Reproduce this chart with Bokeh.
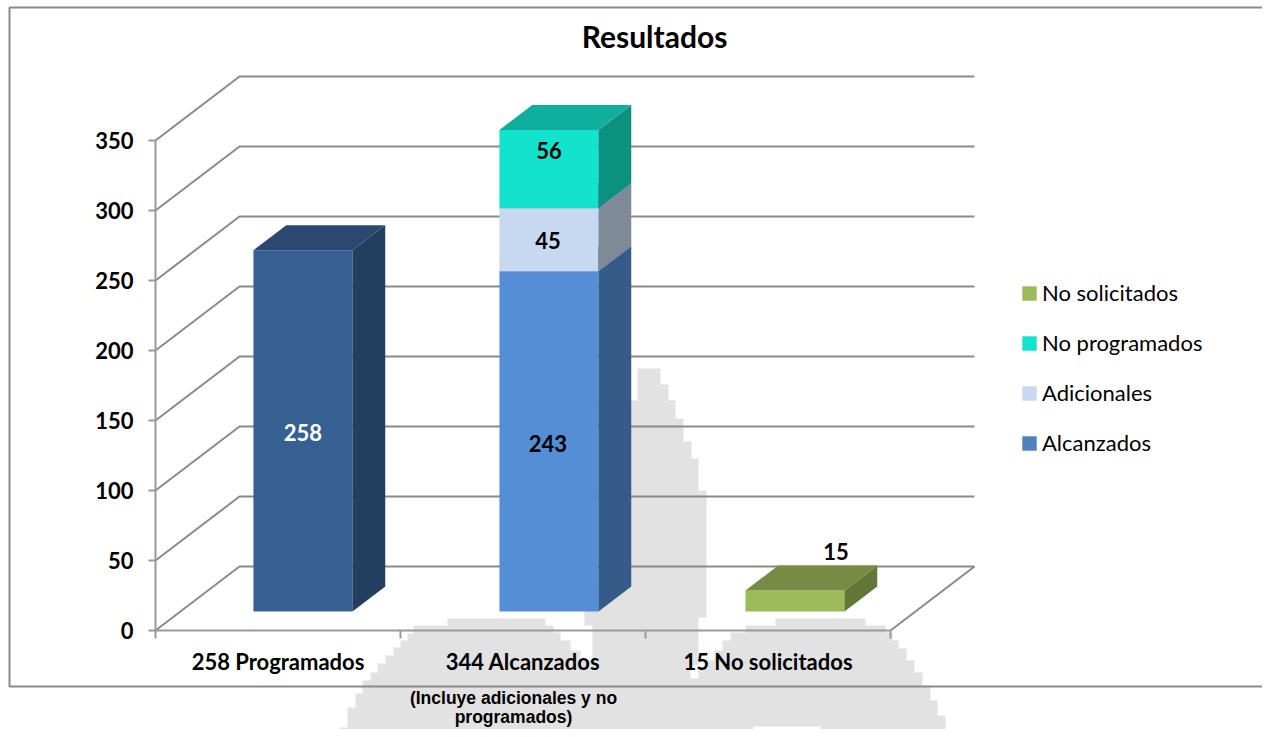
from bokeh.plotting import figure
from bokeh.embed import file_html
from bokeh.resources import INLINE
from bokeh.core.properties import value
from bokeh.models import (Range1d, FixedTicker, LinearAxis, Legend, LegendItem,
                          ColumnDataSource)

# ---------- data ----------
title_text = "Resultados"
categories = ["258 Programados", "344 Alcanzados", "15 No solicitados"]
sub_label = ["(Incluye adicionales y no", "programados)"]
y_ticks = [0, 50, 100, 150, 200, 250, 300, 350]

programados = [258]
alcanzados = [243]
adicionales = [45]
no_programados = [56]
no_solicitados = [15]

legend_names = ["No solicitados", "No programados", "Adicionales", "Alcanzados"]
legend_colors = ["#9BBB59", "#13E3CC", "#C6D9F1", "#4F81BD"]

# (category, start, end, front, top, side, label colour, label dx px, label dy px)
segments = [
    (0, 0, programados[0], "#366092", "#2C4770", "#233F60", "white", 0, -2),
    (1, 0, alcanzados[0], "#558ED5", "#355B88", "#355B88", "black", 0, -2),
    (1, alcanzados[0], alcanzados[0] + adicionales[0], "#C6D9F1", "#7E8A98", "#7E8A98", "black", 0, -1),
    (1, alcanzados[0] + adicionales[0], alcanzados[0] + adicionales[0] + no_programados[0],
     "#13E3CC", "#10AE9C", "#0C9080", "black", 1, 19),
    (2, 0, no_solicitados[0], "#9BBB59", "#788B45", "#647738", "black", 43, 49),
]

# ---------- geometry of the page ----------
W, H = 1262, 729
OFF = 0
PX_X0, PX_Y0 = 155, 630      # screen position of the axes origin
CAT_W = 245                  # px per category
BAR_STEP = 246 / 245         # bars sit slightly wider apart than the categories
UNIT = 1.4                   # px per value unit
DEPTH_X, DEPTH_Y = 84, 64    # px of the full floor depth
HALF = 49.5 / CAT_W
D_FRONT, D_BACK = 0.297, 0.6875
GRID = "#8A8A8A"
AXIS = "#9A9A9A"


def X(px):
    return (px - PX_X0) / CAT_W - 0.5


def Y(py):
    return (PX_Y0 - py) / UNIT


def dx(d):
    return d * DEPTH_X / CAT_W


def dy(d):
    return d * DEPTH_Y / UNIT


p = figure(width=W, height=H, output_backend="svg", toolbar_location=None,
           x_range=Range1d(X(OFF), X(OFF + W)), y_range=Range1d(Y(OFF + H), Y(OFF)),
           min_border=0, outline_line_color=None, background_fill_color="white")
p.grid.visible = False

# ---------- watermark behind the chart ----------
wm_outline = [
    (637, 368), (652, 368), (660, 384), (668, 400), (675, 418), (683, 441), (691, 458), (698, 490),
    (706, 520), (706, 617), (698, 617), (698, 665), (690, 678), (698, 668), (707, 660), (714, 650),
    (722, 640), (730, 632), (745, 625), (775, 618), (850, 618), (865, 625), (885, 632), (892, 640),
    (898, 648), (906, 660), (914, 672), (922, 685), (930, 700), (937, 715), (945, 737), (837, 737),
    (837, 730), (820, 726), (775, 726), (753, 732), (750, 737), (537, 737), (530, 733), (450, 733),
    (447, 737), (339, 737), (339, 727), (347, 707), (355, 693), (362, 680), (370, 672), (377, 663),
    (385, 655), (393, 647), (400, 640), (407, 633), (413, 625), (447, 618), (515, 618), (545, 625),
    (553, 632), (560, 640), (570, 650), (580, 660), (592, 670), (600, 678), (592, 665), (592, 625),
    (584, 625), (584, 400),
]
wm_x, wm_y = [], []
for i, (a, b) in enumerate(wm_outline):
    a2, b2 = wm_outline[(i + 1) % len(wm_outline)]
    wm_x += [X(a), X(a2)]
    wm_y += [Y(b), Y(b)]
p.patch(wm_x, wm_y, fill_color="#E2E2E2", line_color=None)

# ---------- chart border ----------
p.line([X(1300), X(9), X(9), X(1300)], [Y(7), Y(7), Y(686), Y(686)], line_color="#8A8A8A", line_width=2)

# ---------- walls and floor ----------
xl, xr = -0.5, 2.5
wall_xs, wall_ys = [], []
for t in y_ticks:
    wall_xs.append([xl, xl + dx(1), xr + dx(1)])
    wall_ys.append([t, t + dy(1), t + dy(1)])
wall_xs.append([xr, xr + dx(1)])
wall_ys.append([0, dy(1)])
p.multi_line(wall_xs, wall_ys, line_color=GRID, line_width=2)

# ---------- bars ----------
fxs, fys, fcs = [], [], []
for c, v0, v1, front, top, side, _, _, _ in segments:
    l = c * BAR_STEP - HALF + dx(D_FRONT)
    r = c * BAR_STEP + HALF + dx(D_FRONT)
    y0 = v0 + dy(D_FRONT)
    y1 = v1 + dy(D_FRONT)
    depth_x = dx(D_BACK) - dx(D_FRONT)
    depth_y = dy(D_BACK) - dy(D_FRONT)
    fxs.append([l, r, r, l]); fys.append([y0, y0, y1, y1]); fcs.append(front)
    fxs.append([r, r + depth_x, r + depth_x, r]); fys.append([y0, y0 + depth_y, y1 + depth_y, y1]); fcs.append(side)
    fxs.append([l, r, r + depth_x, l + depth_x]); fys.append([y1, y1, y1 + depth_y, y1 + depth_y]); fcs.append(top)
p.patches(fxs, fys, fill_color=fcs, line_color=None)

# ---------- data labels ----------
lab_x = [s[0] + dx(D_FRONT) + s[7] / CAT_W for s in segments]
lab_y = [(s[1] + s[2]) / 2 + dy(D_FRONT) + s[8] / UNIT for s in segments]
lab_t = [str(s[2] - s[1]) for s in segments]
lab_c = [s[6] for s in segments]
p.text(lab_x, lab_y, text=lab_t, text_color=lab_c, text_align="center", text_baseline="middle",
       text_font=value("Lato"), text_font_style="bold", text_font_size="22px")

# ---------- title and sub label ----------
p.text([X(654)], [Y(35)], text=[title_text], text_align="center", text_baseline="middle",
       text_font=value("Lato"), text_font_style="bold", text_font_size="30px", text_color="black")
p.text([X(513), X(513)], [Y(697), Y(716)], text=sub_label, text_align="center", text_baseline="middle",
       text_font=value("Liberation Sans"), text_font_style="bold", text_font_size="17.5px",
       text_color="black")

# ---------- axes ----------
ya = p.yaxis[0]
ya.fixed_location = xl
ya.bounds = (0, 350)
ya.ticker = FixedTicker(ticks=y_ticks)
ya.axis_line_color = AXIS
ya.axis_line_width = 2
ya.major_tick_line_color = AXIS
ya.major_tick_line_width = 2
ya.major_tick_in = 0
ya.major_tick_out = 7
ya.minor_tick_line_color = None
ya.major_label_standoff = 15
ya.major_label_text_font = "Lato"
ya.major_label_text_font_style = "bold"
ya.major_label_text_font_size = "22px"
ya.major_label_text_color = "black"

xa = p.xaxis[0]
xa.fixed_location = 0
xa.bounds = (-0.5, 2.5)
xa.ticker = FixedTicker(ticks=[-0.5, 0.5, 1.5, 2.5])
xa.axis_line_color = AXIS
xa.axis_line_width = 2
xa.major_tick_line_color = AXIS
xa.major_tick_line_width = 2
xa.major_tick_in = 0
xa.major_tick_out = 8
xa.minor_tick_line_color = None
xa.major_label_text_font_size = "0px"
xa.major_label_overrides = {-0.5: "", 0.5: "", 1.5: "", 2.5: ""}

xb = LinearAxis(fixed_location=0, ticker=FixedTicker(ticks=[0, 1, 2]),
                major_label_overrides={i: c for i, c in enumerate(categories)})
xb.axis_line_color = None
xb.major_tick_line_color = None
xb.minor_tick_line_color = None
xb.major_label_standoff = 11
xb.major_label_text_font = "Lato"
xb.major_label_text_font_style = "bold"
xb.major_label_text_font_size = "22px"
xb.major_label_text_color = "black"
p.add_layout(xb, "below")

# ---------- legend ----------
items = []
swatch = ColumnDataSource(dict(left=[xl], right=[xl], top=[0], bottom=[0]))
for name, col in zip(legend_names, legend_colors):
    r = p.quad(left="left", right="right", top="top", bottom="bottom", source=swatch,
               fill_color=col, line_color=None)
    items.append(LegendItem(label=name, renderers=[r]))
legend = Legend(items=items, location=(1020 - OFF, OFF + H - 456), orientation="vertical",
                background_fill_alpha=0, border_line_color=None, padding=0, margin=0,
                spacing=23, glyph_width=18, glyph_height=18, label_standoff=4,
                label_height=24, label_text_font="Lato", label_text_font_size="22px",
                label_text_color="black")
p.add_layout(legend, "center")

open("out.html", "w").write(file_html(p, INLINE))
